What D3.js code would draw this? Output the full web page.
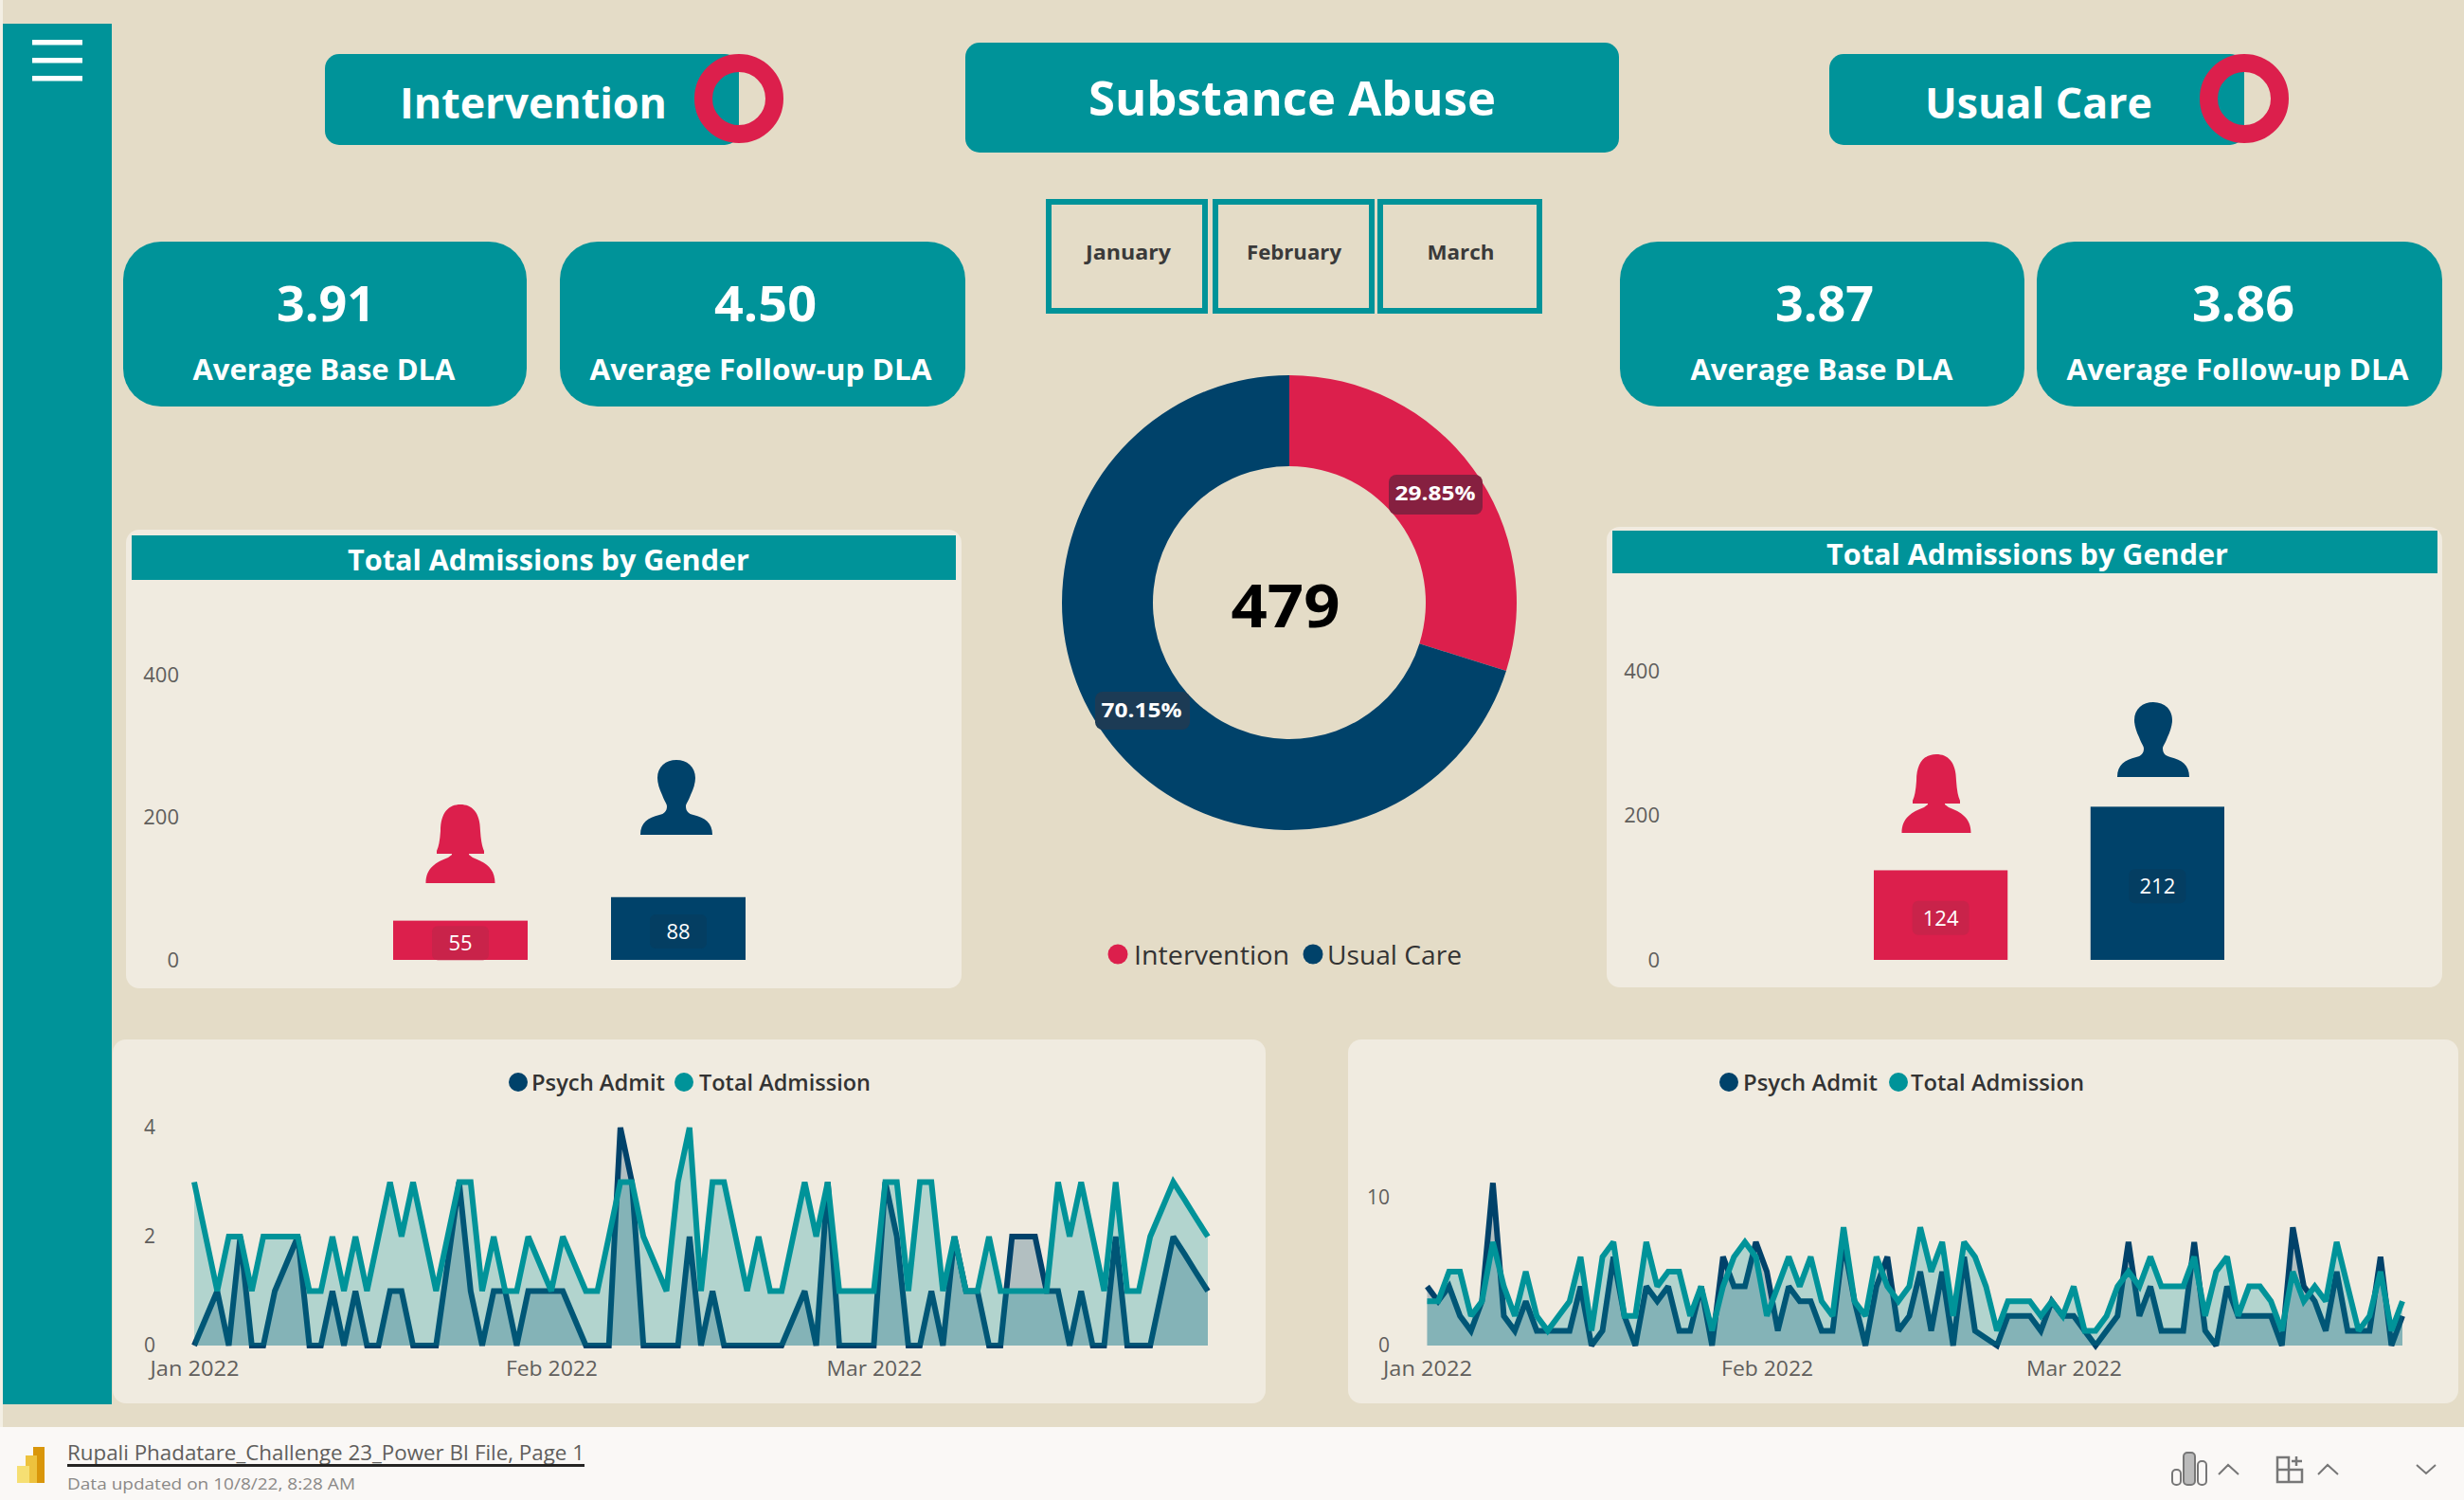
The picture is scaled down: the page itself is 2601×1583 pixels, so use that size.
<!DOCTYPE html>
<html><head><meta charset="utf-8">
<script src="https://cdn.jsdelivr.net/npm/d3@7/dist/d3.min.js"></script>
<style>html,body{margin:0;padding:0;background:#E4DCC7;overflow:hidden}svg{display:block}text{font-family:"Open Sans",sans-serif}</style>
</head><body><svg id="c" width="2601" height="1583"></svg>
<script>
// ---- data ----
const months = ["January","February","March"];
const donutLabels = ["Intervention","Usual Care"];
const donutShares = [29.85,70.15];
const donutTotal = "479";
const genders = ["Female","Male"];
const leftGender = [55,88];
const rightGender = [124,212];
const genderTicks = [0,200,400];
const kpiLeft = ["3.91","4.50"];
const kpiRight = ["3.87","3.86"];
const kpiLabels = ["Average Base DLA","Average Follow-up DLA"];
const leftTotal = [3,2,1,2,2,1,2,2,2,2,1,1,2,1,2,1,2,3,2,3,2,1,2,3,3,1,2,1,1,2,1.5,1,2,1.5,1,1,2,3,3,2,1.5,1,3,4,1,3,3,2,1,2,1,1,2,3,2,3,1,1,1,1,3,3,1,3,3,1,2,1,1,2,1,1,1,1,1,3,2,3,2,1,3,1,1,2,2.5,3,2.67,2.33,2];
const leftPsych = [0,0.5,1,0,2,0,0,1,1.5,2,0,0,1,0,1,0,0,1,1,0,0,0,1.5,3,1,0,1,1,0,1,1,1,1,0.5,0,0,0,4,3,0,0,0,0,2,0,1,0,0,0,0,0,0,0.5,1,0,3,0,0,0,0,3,2,0,0,1,0,2,1,1,0,0,2,2,2,1,1,0,1,0,0,2,0,0,0,1,2,1.67,1.33,1];
const rightTotal = [3,3,5,5,2,3,7,4,2,5,2,1,2,3,6,1,6,7,2,2,7,4,5,5,2,4,1,4,6,7,6,2,4,6,4,6,3,2,8,3,2,6,4,3,4,8,5,7,2,7,6,4,1,3,3,3,2,3,2,4,1,1,2,4,5,4,6,4,4,4,6,2,5,6,2,4,4,3,1,5,3,4,3,7,4,1,2,5,1,3];
const rightPsych = [4,3,4,2,1,3,11,2,1,3,1,1,1,1,4,0,1,6,2,0,4,3,4,1,1,4,0,6,4,4,7,5,1,4,3,3,1,1,7,3,0,4,6,1,2,5,1,5,0,6,1,0.5,0,2,2,2,1,3,2,2,1,0,1,2,7,2,4,1,1,1,7,1,0,4,2,2,2,2,0,8,4,3,1,5,1,1,1,6,0,2];
const dateStart = new Date(2022,0,1);
const lineTickDates = [new Date(2022,0,1),new Date(2022,1,1),new Date(2022,2,1)];
const lineSeriesNames = ["Psych Admit","Total Admission"];
const leftLineTicks = [0,2,4];
const rightLineTicks = [0,10];

// ---- palette ----
const BG="#E4DCC7",PANEL="#F0EBE0",TEAL="#009399",RED="#DC1F4C",NAVY="#00426A",GREY="#605E5C";
const svg=d3.select("#c");
function rect(g,x,y,w,h,fill,rx){return g.append("rect").attr("x",x).attr("y",y).attr("width",w).attr("height",h).attr("fill",fill).attr("rx",rx||0);}
function txt(g,s,cx,base,width,size,weight,fill,anchor){
  const t=g.append("text").attr("x",cx).attr("y",base).attr("font-size",size).attr("font-weight",weight).attr("fill",fill).attr("text-anchor",anchor||"middle").text(s);
  if(width)t.attr("textLength",width).attr("lengthAdjust","spacingAndGlyphs");
  return t;
}
const root=svg.append("g");
rect(root,0,0,2601,1583,BG);
rect(root,0,0,3,1506,"#F3EFE4");

// sidebar
rect(root,3,25,115,1457,TEAL);
[45,64,83].forEach(y=>rect(root,34,y-3,53,5.5,"#FFFFFF"));

// header pills
function pill(x0,x1,label,cx,w){
  root.append("circle").attr("cx",x1).attr("cy",104).attr("r",37.5).attr("fill",BG);
  rect(root,x0,57,x1-x0,96,TEAL,15);
  root.append("circle").attr("cx",x1).attr("cy",104).attr("r",37.5).attr("fill","none").attr("stroke",RED).attr("stroke-width",19);
  txt(root,label,cx,125,w,45,700,"#fff");
}
pill(343,780,"Intervention",563,282);
pill(1931,2369,"Usual Care",2152,240);
rect(root,1019,45,690,116,TEAL,15);
txt(root,"Substance Abuse",1364,122,430,51,700,"#fff");

// KPI cards
function kpi(x,w,val,valCx,valW,lab,labCx,labW){
  rect(root,x,255,w,174,TEAL,40);
  txt(root,val,valCx,339,valW,52,700,"#fff");
  txt(root,lab,labCx,401,labW,31,700,"#fff");
}
kpi(130,426,kpiLeft[0],344,104,kpiLabels[0],342,277);
kpi(591,428,kpiLeft[1],808,108,kpiLabels[1],803,361);
kpi(1710,427,kpiRight[0],1926,104,kpiLabels[0],1923,277);
kpi(2150,428,kpiRight[1],2368,108,kpiLabels[1],2362,361);

// month slicers
[[1104,171,1191,90],[1280,171,1366,100],[1454,174,1542,71]].forEach((b,i)=>{
  root.append("rect").attr("x",b[0]+3).attr("y",213).attr("width",b[1]-6).attr("height",115).attr("fill","none").attr("stroke",TEAL).attr("stroke-width",6);
  txt(root,months[i],b[2],274,b[3],22,700,"#3a3a3a");
});

// donut
const donutG=root.append("g").attr("transform","translate(1361,636)");
const donutColor=d3.scaleOrdinal(donutLabels,[RED,NAVY]);
const pie=d3.pie().sort(null);
const arc=d3.arc().innerRadius(144).outerRadius(240);
donutG.selectAll("path").data(pie(donutShares)).join("path").attr("d",arc).attr("fill",(d,i)=>donutColor(donutLabels[i]));
txt(root,donutTotal,1357,662,115,62,700,"#000");
[[1466,501,99,42,"#862040",1515,528],[1156,730,100,40,"#1C3B55",1205,757]].forEach((b,i)=>{
  rect(root,b[0],b[1],b[2],b[3],b[4],8);
  txt(root,d3.format(".2f")(donutShares[i===0?0:1])+"%",b[5],b[6],85,22,700,"#fff");
});
root.append("circle").attr("cx",1180).attr("cy",1007).attr("r",10.5).attr("fill",RED);
txt(root,donutLabels[0],1197,1018,164,27,400,"#333","start");
root.append("circle").attr("cx",1386).attr("cy",1007).attr("r",10.5).attr("fill",NAVY);
txt(root,donutLabels[1],1401,1018,142,27,400,"#333","start");

// person icons
const femalePath="M-36.5,0C-36.5,-16 -26,-22 -13,-27L-9,-30L-9,-31L-25,-31L-25,-34Q-22,-40 -21,-55C-21,-75 -12,-83 0,-83C12,-83 21,-75 21,-55Q22,-40 25,-34L25,-31L9,-31L9,-30L13,-27C26,-22 36.5,-16 36.5,0Z";
const malePath="M-38,0C-38,-13 -30,-18 -18,-21C-13,-22 -10,-25 -10,-30C-10,-33 -13,-36 -15,-42C-18,-48 -20,-55 -20,-60C-20,-72 -11,-79 0,-79C11,-79 20,-72 20,-60C20,-55 18,-48 15,-42C13,-36 10,-33 10,-30C10,-25 13,-22 18,-21C30,-18 38,-13 38,0Z";

// gender panels
function genderPanel(o){
  rect(root,o.px,o.py,o.pw,o.ph,PANEL,14);
  rect(root,o.hx,o.hy,o.hw,o.hh,TEAL);
  txt(root,"Total Admissions by Gender",o.titleCx,o.titleBase,424,31,700,"#fff");
  const y=d3.scaleLinear([0,400],[o.y0,o.y400]);
  const x=d3.scaleBand(genders,[o.bx0,o.bx1]).paddingInner(88/230);
  const c=d3.scaleOrdinal(genders,[RED,NAVY]);
  const ax=root.append("g").attr("transform",`translate(${o.axisX},0)`).call(d3.axisLeft(y).tickValues(genderTicks).tickSize(0).tickPadding(0));
  ax.select(".domain").remove();
  ax.selectAll("text").attr("font-size",22).attr("fill",GREY).style("font-family",'"Open Sans",sans-serif');
  const boxFill=[ "#C9234A","#043E62"];
  root.selectAll(null).data(o.values).join("rect").attr("x",(d,i)=>x(genders[i])).attr("y",d=>y(d)).attr("width",x.bandwidth()).attr("height",d=>y(0)-y(d)).attr("fill",(d,i)=>c(genders[i]));
  o.values.forEach((v,i)=>{
    const cx=x(genders[i])+x.bandwidth()/2, cy=(y(v)+y(0))/2+3;
    rect(root,cx-30,cy-18,60,36,boxFill[i],6);
    txt(root,String(v),cx,cy+8,null,22,400,"#fff");
  });
  root.append("path").attr("d",femalePath).attr("fill",RED).attr("transform",`translate(${o.fx},${o.fb})`);
  root.append("path").attr("d",malePath).attr("fill",NAVY).attr("transform",`translate(${o.mx},${o.mb})`);
}
genderPanel({px:133,py:559,pw:882,ph:484,hx:139,hy:565,hw:870,hh:47,titleCx:579,titleBase:602,y0:1013,y400:712,bx0:415,bx1:787,axisX:189,values:leftGender,fx:486,fb:932,mx:714,mb:881});
genderPanel({px:1696,py:556,pw:882,ph:486,hx:1702,hy:560,hw:871,hh:45,titleCx:2140,titleBase:596,y0:1013,y400:708,bx0:1978,bx1:2348,axisX:1752,values:rightGender,fx:2044,fb:879,mx:2273,mb:820});

// line panels
function linePanel(o){
  rect(root,o.px,1097,o.pw,384,PANEL,14);
  const n=o.total.length-1;
  const x=d3.scaleTime([dateStart,d3.timeDay.offset(dateStart,n)],[o.x0,o.x1]);
  const y=d3.scaleLinear([0,o.vmax],[1420,o.ytop]);
  const date=i=>d3.timeDay.offset(dateStart,i);
  const area=d3.area().x((d,i)=>x(date(i))).y0(y(0)).y1(d=>y(d));
  const line=d3.line().x((d,i)=>x(date(i))).y(d=>y(d));
  [[o.psych,NAVY],[o.total,TEAL]].forEach(([s,col])=>{
    root.append("path").datum(s).attr("d",area).attr("fill",col).attr("fill-opacity",0.26);
    root.append("path").datum(s).attr("d",line).attr("fill","none").attr("stroke",col).attr("stroke-width",6).attr("stroke-linejoin","miter").attr("stroke-miterlimit",2.2);
  });
  const ay=root.append("g").attr("transform",`translate(${o.axisX},0)`).call(d3.axisLeft(y).tickValues(o.ticks).tickFormat(d3.format("d")).tickSize(0).tickPadding(0));
  ay.select(".domain").remove();
  ay.selectAll("text").attr("font-size",21).attr("fill",GREY).style("font-family",'"Open Sans",sans-serif');
  const ax=root.append("g").attr("transform","translate(0,1436)").call(d3.axisBottom(x).tickValues(lineTickDates).tickFormat(d3.timeFormat("%b %Y")).tickSize(0).tickPadding(0));
  ax.select(".domain").remove();
  const widths=[94,97,101];
  ax.selectAll("text").attr("font-size",22).attr("fill",GREY).attr("textLength",(d,i)=>widths[i]).attr("lengthAdjust","spacingAndGlyphs").style("font-family",'"Open Sans",sans-serif');
  root.append("circle").attr("cx",o.lx[0]).attr("cy",1142).attr("r",10).attr("fill",NAVY);
  txt(root,lineSeriesNames[0],o.lx[1],1151,o.lx[2],23,600,"#333","start");
  root.append("circle").attr("cx",o.lx[3]).attr("cy",1142).attr("r",10).attr("fill",TEAL);
  txt(root,lineSeriesNames[1],o.lx[4],1151,o.lx[5],23,600,"#333","start");
}
linePanel({px:119,pw:1217,total:leftTotal,psych:leftPsych,x0:205,x1:1275,vmax:4,ytop:1190,axisX:164,ticks:leftLineTicks,lx:[547,561,141,722,738,181]});
linePanel({px:1423,pw:1172,total:rightTotal,psych:rightPsych,x0:1506.5,x1:2536,vmax:10,ytop:1264,axisX:1467,ticks:rightLineTicks,lx:[1825,1840,142,2004,2017,183]});

// status bar
rect(root,0,1506,2601,77,"#FAF8F6");
rect(root,35,1527,12,38,"#D9960A");
rect(root,27,1536,12,29,"#EDC23E");
rect(root,18,1547,13,18,"#F6DF73");
txt(root,"Rupali Phadatare_Challenge 23_Power BI File, Page 1",71,1541,546,21,400,GREY,"start");
rect(root,71,1545,546,3,"#252423");
txt(root,"Data updated on 10/8/22, 8:28 AM",71,1572,304,17,400,"#8A8886","start");
const st=root.append("g").attr("fill","none").attr("stroke","#777").attr("stroke-width",2);
[[2293,1551,9,16],[2305,1533,12,34],[2320,1542,9,25]].forEach(b=>st.append("rect").attr("x",b[0]).attr("y",b[1]).attr("width",b[2]).attr("height",b[3]).attr("rx",4).attr("fill",b[2]===12?"#bbb":"none"));
st.append("path").attr("d","M2342,1556L2352,1546L2363,1556M2447,1556L2457,1546L2468,1556M2551,1546L2561,1555L2571,1546");
st.append("path").attr("stroke-width",2.5).attr("d","M2404,1538H2416V1564H2404ZM2416,1551H2430V1564H2416ZM2404,1551H2416M2424,1537V1547M2419,1542H2430");
</script></body></html>
